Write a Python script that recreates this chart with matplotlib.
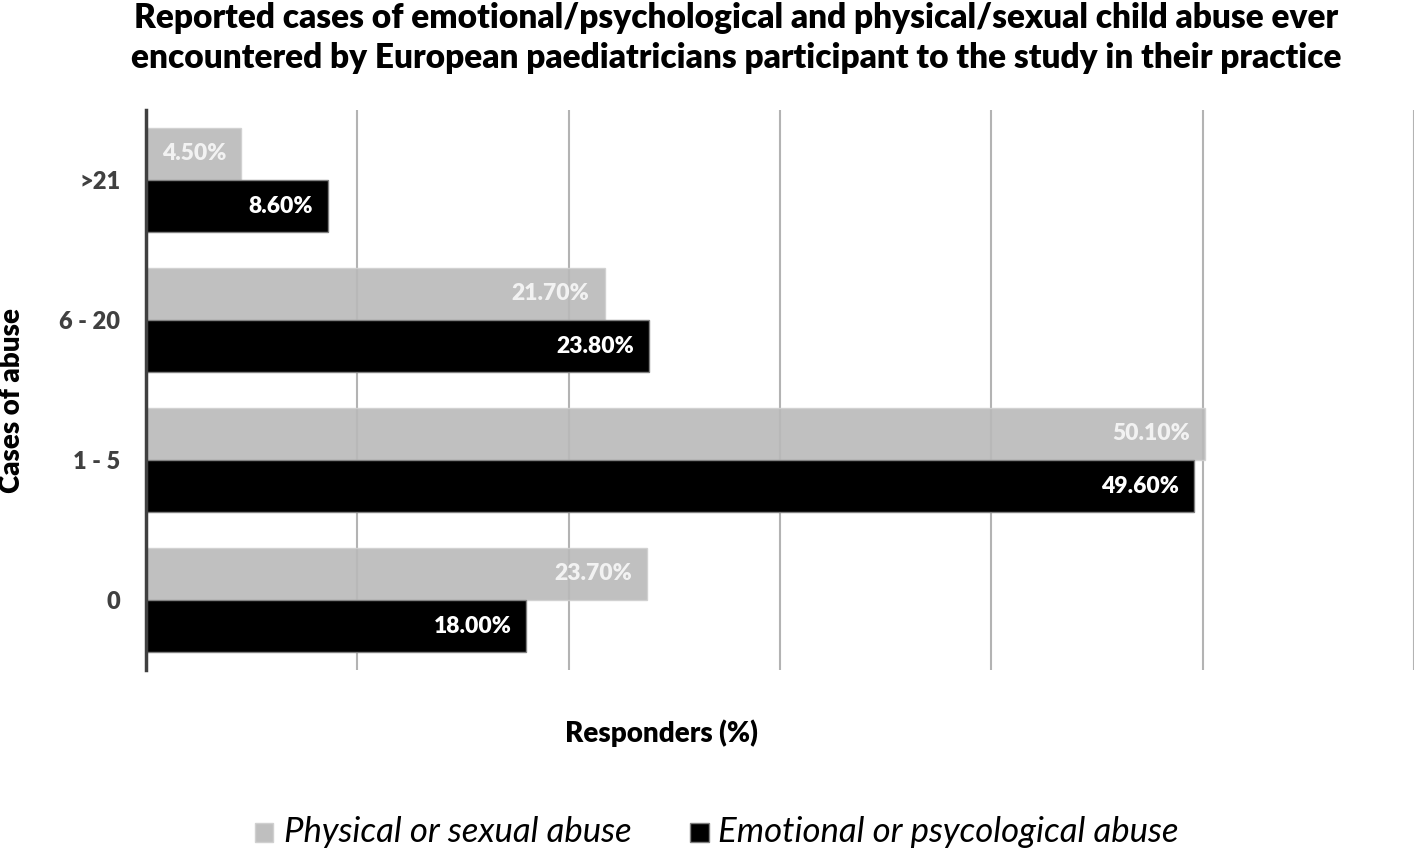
import matplotlib
matplotlib.use("Agg")
import matplotlib.pyplot as plt
import numpy as np
from matplotlib.patches import Rectangle

categories = ["0", "1 - 5", "6 - 20", ">21"]
physical = [23.7, 50.1, 21.7, 4.5]
emotional = [18.0, 49.6, 23.8, 8.6]
series_names = ["Physical or sexual abuse", "Emotional or psycological abuse"]

FONT = ["Lato", "DejaVu Sans"]
plt.rcParams['font.family'] = FONT
HEAVY = 800

fig = plt.figure(figsize=(14.17, 8.5), dpi=100)
ax = fig.add_axes([146/1417, 1-670/850, (1414-146)/1417, (670-110)/850])

y = np.arange(len(categories))
h = 0.373
ax.barh(y + h/2, physical, height=h, color="#b9b9b9", alpha=0.9, edgecolor="#d0d0d0", linewidth=1, zorder=2)
ax.barh(y - h/2, emotional, height=h, color="#000000", edgecolor="#808080", linewidth=1, zorder=2)

for yi, v in zip(y, physical):
    ax.text(v - 0.71, yi + h/2, f"{v:.2f}%", ha="right", va="center", color="#f2f2f2",
            fontsize=16.5, fontweight=HEAVY, zorder=3)
for yi, v in zip(y, emotional):
    ax.text(v - 0.71, yi - h/2, f"{v:.2f}%", ha="right", va="center", color="white",
            fontsize=16.5, fontweight=HEAVY, zorder=3)

ax.set_xlim(0, 60)
ax.set_ylim(-0.5, 3.5)
ax.set_xticks(np.arange(10, 61, 10))
ax.set_xticklabels([])
ax.tick_params(axis="x", length=0)
ax.xaxis.grid(True, color="#b3b3b3", linewidth=1.5, zorder=1)
ax.set_axisbelow(True)
ax.set_yticks(y)
ax.set_yticklabels(categories, fontsize=17, fontweight=HEAVY, color="#404040")
ax.tick_params(axis="y", length=0, pad=18.5)
for s in ["top", "right", "bottom"]:
    ax.spines[s].set_visible(False)
ax.spines["left"].set_color("#404040")
ax.spines["left"].set_linewidth(2.5)

fig.text(736/1417, 1-38/850,
         "Reported cases of emotional/psychological and physical/sexual child abuse ever\n"
         "encountered by European paediatricians participant to the study in their practice",
         ha="center", va="center", fontsize=24, fontweight=HEAVY, linespacing=1.3)
fig.text(12/1417, 1-401/850, "Cases of abuse", rotation=90, ha="center", va="center",
         fontsize=20, fontweight=HEAVY)
fig.text(661/1417, 1-733/850, "Responders (%)", ha="center", va="center",
         fontsize=20, fontweight=HEAVY)

# legend
fig.patches.append(Rectangle((255/1417, 1-842/850), 18/1417, 19/850, transform=fig.transFigure,
                             facecolor="#bfbfbf", edgecolor="#d0d0d0"))
fig.text(284/1417, 1-832/850, series_names[0], ha="left", va="center", fontsize=25,
         fontstyle="italic")
fig.patches.append(Rectangle((690/1417, 1-842/850), 19/1417, 19/850, transform=fig.transFigure,
                             facecolor="#000000", edgecolor="#808080"))
fig.text(718/1417, 1-832/850, series_names[1], ha="left", va="center", fontsize=25,
         fontstyle="italic")

fig.savefig("out.png", dpi=100)
